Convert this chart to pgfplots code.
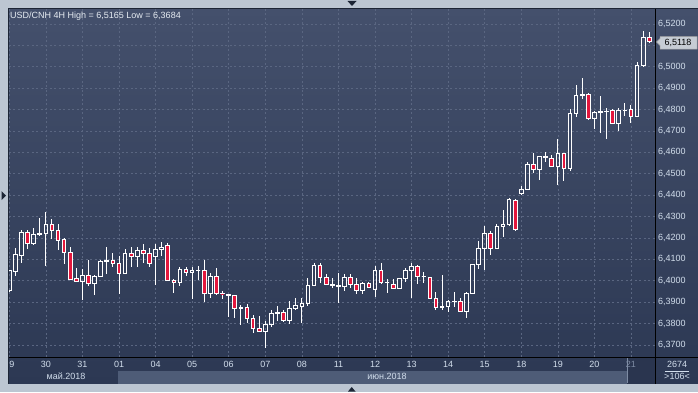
\documentclass[border=0pt]{standalone}
\usepackage{pgfplots}
\pgfplotsset{compat=1.18}
\usepackage{pgfplotstable}
\usepgfplotslibrary{statistics}
\usepackage{fontspec}
\setmainfont{Liberation Sans}

\definecolor{outer}{HTML}{BCC6D2}
\definecolor{bgtop}{HTML}{44506C}
\definecolor{bgbot}{HTML}{2C3853}
\definecolor{gridc}{HTML}{5A6681}
\definecolor{labc}{HTML}{D2DEEC}
\definecolor{titc}{HTML}{E6ECF2}
\definecolor{dimc}{HTML}{7E8CA4}
\definecolor{candlered}{HTML}{E3173D}
\definecolor{bandc}{HTML}{4E5C77}
\definecolor{boxc}{HTML}{2A354F}
\definecolor{tri}{HTML}{1C2535}
\definecolor{tagc}{HTML}{C6CCD4}

% 4H candles: open high low close
\pgfplotstableread{
O H L C
6.3954 6.4050 6.3950 6.4046
6.4043 6.4155 6.4023 6.4121
6.4118 6.4238 6.4085 6.4227
6.4227 6.4238 6.4149 6.4176
6.4174 6.4246 6.4168 6.4218
6.4216 6.4292 6.4211 6.4222
6.4222 6.4320 6.4071 6.4264
6.4264 6.4288 6.4194 6.4236
6.4236 6.4266 6.4144 6.4190
6.4194 6.4199 6.4077 6.4133
6.4133 6.4157 6.4005 6.4007
6.4009 6.4059 6.3998 6.3998
6.3998 6.4056 6.3912 6.4026
6.4026 6.4098 6.3978 6.3987
6.3987 6.4026 6.3936 6.4021
6.4021 6.4096 6.4020 6.4091
6.4090 6.4157 6.4034 6.4096
6.4096 6.4130 6.4066 6.4082
6.4082 6.4116 6.3940 6.4035
6.4035 6.4149 6.4031 6.4129
6.4129 6.4157 6.4066 6.4115
6.4115 6.4157 6.4066 6.4143
6.4143 6.4172 6.4082 6.4129
6.4129 6.4152 6.4066 6.4082
6.4113 6.4172 6.3982 6.4148
6.4148 6.4182 6.4118 6.4157
6.4163 6.4179 6.4003 6.4003
6.4003 6.4009 6.3945 6.3993
6.3993 6.4063 6.3978 6.4054
6.4054 6.4066 6.4023 6.4040
6.4040 6.4065 6.3915 6.4049
6.4049 6.4070 6.4004 6.4049
6.4049 6.4098 6.3903 6.3942
6.3942 6.4035 6.3922 6.4021
6.4021 6.4059 6.3936 6.3940
6.3940 6.3954 6.3915 6.3939
6.3936 6.3939 6.3833 6.3931
6.3931 6.3934 6.3828 6.3872
6.3872 6.3887 6.3793 6.3873
6.3876 6.3892 6.3804 6.3825
6.3825 6.3840 6.3758 6.3778
6.3778 6.3837 6.3764 6.3764
6.3764 6.3814 6.3684 6.3798
6.3798 6.3864 6.3783 6.3845
6.3845 6.3884 6.3814 6.3854
6.3854 6.3864 6.3809 6.3815
6.3815 6.3906 6.3797 6.3871
6.3870 6.3918 6.3865 6.3885
6.3882 6.3918 6.3801 6.3895
6.3895 6.4011 6.3882 6.3979
6.3979 6.4082 6.3979 6.4072
6.4072 6.4082 6.3991 6.4016
6.4016 6.4032 6.3985 6.3985
6.3985 6.4011 6.3965 6.3976
6.3976 6.4035 6.3898 6.3974
6.3972 6.4032 6.3954 6.4016
6.4016 6.4032 6.3965 6.3985
6.3985 6.4011 6.3937 6.3956
6.3956 6.3993 6.3937 6.3988
6.3988 6.3993 6.3965 6.3969
6.3960 6.4069 6.3923 6.4050
6.4050 6.4082 6.3983 6.3991
6.3991 6.4007 6.3941 6.3991
6.3983 6.4007 6.3965 6.3965
6.3965 6.4011 6.3965 6.4011
6.4011 6.4058 6.3996 6.4046
6.4046 6.4082 6.3921 6.4068
6.4068 6.4074 6.3985 6.4019
6.4019 6.4043 6.3988 6.4019
6.4016 6.4019 6.3918 6.3918
6.3918 6.3946 6.3863 6.3876
6.3876 6.4027 6.3863 6.3879
6.3879 6.3910 6.3856 6.3902
6.3902 6.3949 6.3879 6.3904
6.3904 6.3918 6.3856 6.3856
6.3856 6.3949 6.3828 6.3941
6.3941 6.4079 6.3941 6.4074
6.4074 6.4186 6.4055 6.4152
6.4152 6.4258 6.4050 6.4222
6.4222 6.4234 6.4121 6.4152
6.4152 6.4264 6.4152 6.4256
6.4256 6.4331 6.4206 6.4264
6.4264 6.4389 6.4258 6.4378
6.4375 6.4381 6.4234 6.4241
6.4409 6.4443 6.4399 6.4427
6.4427 6.4555 6.4424 6.4544
6.4544 6.4596 6.4502 6.4521
6.4521 6.4585 6.4471 6.4580
6.4580 6.4602 6.4554 6.4577
6.4572 6.4588 6.4533 6.4533
6.4533 6.4663 6.4448 6.4596
6.4596 6.4599 6.4468 6.4526
6.4526 6.4801 6.4515 6.4783
6.4783 6.4915 6.4767 6.4868
6.4868 6.4946 6.4848 6.4870
6.4871 6.4876 6.4755 6.4758
6.4758 6.4795 6.4708 6.4787
6.4787 6.4864 6.4689 6.4790
6.4790 6.4806 6.4661 6.4793
6.4795 6.4801 6.4731 6.4736
6.4736 6.4806 6.4702 6.4798
6.4798 6.4829 6.4772 6.4798
6.4801 6.4822 6.4739 6.4770
6.4770 6.5021 6.4770 6.5008
6.5005 6.5165 6.5002 6.5136
6.5136 6.5161 6.5117 6.5118
}\candles

\pgfplotsset{
  redc/.style={draw=white, fill=candlered, line width=1pt},
  whitec/.style={draw=white, fill=none, line width=1pt},
}

\begin{document}
\begin{tikzpicture}
\path[use as bounding box] (0,0) rectangle (698pt,392pt);
\fill[outer] (0,0) rectangle (698pt,392pt);
\shade[top color=bgtop, bottom color=bgbot] (8pt,8pt) rectangle (698pt,384pt);
\fill[bandc] (118pt,8pt) rectangle (627pt,21pt);
\fill[boxc] (627pt,8pt) rectangle (655pt,34pt);
\draw[dimc, line width=0.8pt] (627.4pt,9pt) -- (627.4pt,34pt);

\begin{axis}[
  at={(9pt,35pt)}, anchor=south west,
  scale only axis, width=646pt, height=348pt,
  xmin=-0.05, xmax=105.94, ymin=6.3644, ymax=6.527,
  axis line style={draw=none},
  major tick length=0pt,
  xtick={0,6,...,102},
  xticklabels={29,30,31,01,04,05,06,07,08,11,12,13,14,15,18,19,20,\textcolor{dimc}{21}},
  ytick={6.37,6.38,6.39,6.40,6.41,6.42,6.43,6.44,6.45,6.46,6.47,6.48,6.49,6.50,6.51,6.52},
  yticklabels={6{,}3700,6{,}3800,6{,}3900,6{,}4000,6{,}4100,6{,}4200,6{,}4300,6{,}4400,6{,}4500,6{,}4600,6{,}4700,6{,}4800,6{,}4900,6{,}5000,{},6{,}5200},
  yticklabel pos=right,
  scaled y ticks=false,
  grid=major,
  major grid style={draw=gridc, line width=0.7pt, dash pattern=on 2pt off 2.5pt},
  tick label style={font=\fontsize{9}{10}\selectfont, text=labc, inner sep=0pt},
  x tick label style={anchor=north, yshift=-4.5pt},
  y tick label style={anchor=west, xshift=3pt},
  boxplot/draw direction=y,
  boxplot/box extend=0.6,
  boxplot/whisker extend=0,
]
\pgfplotstablegetrowsof{\candles}
\pgfmathtruncatemacro\lastrow{\pgfplotsretval-1}
\pgfplotsinvokeforeach{0,...,\lastrow}{%
  \pgfplotstablegetelem{#1}{O}\of\candles \let\vO\pgfplotsretval
  \pgfplotstablegetelem{#1}{H}\of\candles \let\vH\pgfplotsretval
  \pgfplotstablegetelem{#1}{L}\of\candles \let\vL\pgfplotsretval
  \pgfplotstablegetelem{#1}{C}\of\candles \let\vC\pgfplotsretval
  \pgfmathsetmacro\vB{min(\vO,\vC)}%
  \pgfmathsetmacro\vT{max(\vO,\vC)}%
  \pgfmathtruncatemacro\isred{\vO>\vC}%
  \ifnum\isred=1 \def\cst{redc}\else\def\cst{whitec}\fi
  \edef\temp{\noexpand\addplot[\cst, boxplot prepared={draw position=#1, lower whisker=\vL, lower quartile=\vB, median=\vB, upper quartile=\vT, upper whisker=\vH}] coordinates {};}%
  \temp
}
\end{axis}

% frame lines
\draw[black, line width=1pt] (8pt,35pt) -- (698pt,35pt);
\draw[black, line width=1pt] (655.5pt,8pt) -- (655.5pt,384pt);
\fill[outer] (0,0) rectangle (7.6pt,392pt);
\draw[tri, line width=1pt] (8.1pt,8pt) -- (8.1pt,384pt);
\draw[tri, line width=1pt] (8pt,383.6pt) -- (698pt,383.6pt);
\fill[outer] (0,384.1pt) rectangle (698pt,392pt);
\fill[outer] (0,0) rectangle (698pt,7.9pt);

% arrows
\fill[tri] (347.5pt,391pt) -- (356.5pt,391pt) -- (352pt,386pt) -- cycle;
\fill[tri] (1.5pt,201pt) -- (1.5pt,192pt) -- (6pt,196.5pt) -- cycle;
\fill[tri] (348pt,0.5pt) -- (355.5pt,0.5pt) -- (351.7pt,5pt) -- cycle;

% title
\node[anchor=base west, text=titc, font=\fontsize{9}{10}\selectfont, inner sep=0pt] at (10pt,373.5pt) {USD/CNH 4H High = 6,5165 Low = 6,3684};

% month labels
\node[text=labc, font=\fontsize{9}{10}\selectfont, inner sep=0pt] at (66pt,15.5pt) {май.2018};
\node[text=labc, font=\fontsize{9}{10}\selectfont, inner sep=0pt] at (387pt,15.5pt) {июн.2018};

% bottom right counter
\node[text=labc, font=\fontsize{9}{10}\selectfont, inner sep=0pt] at (677pt,27.5pt) {2674};
\draw[labc, line width=0.6pt] (665pt,21pt) -- (689pt,21pt);
\node[text=labc, font=\fontsize{9}{10}\selectfont, inner sep=0pt] at (677pt,15.3pt) {>106<};

% price tag
\filldraw[fill=tagc, draw=gray!70, line width=0.5pt] (656.5pt,350pt) -- (660pt,353.5pt) -- (660pt,355.3pt) -- (697pt,355.3pt) -- (697pt,343pt) -- (660pt,343pt) -- (660pt,346.5pt) -- cycle;
\node[text=black, font=\fontsize{9}{10}\selectfont, inner sep=0pt] at (678pt,349.2pt) {6,5118};
\end{tikzpicture}
\end{document}
